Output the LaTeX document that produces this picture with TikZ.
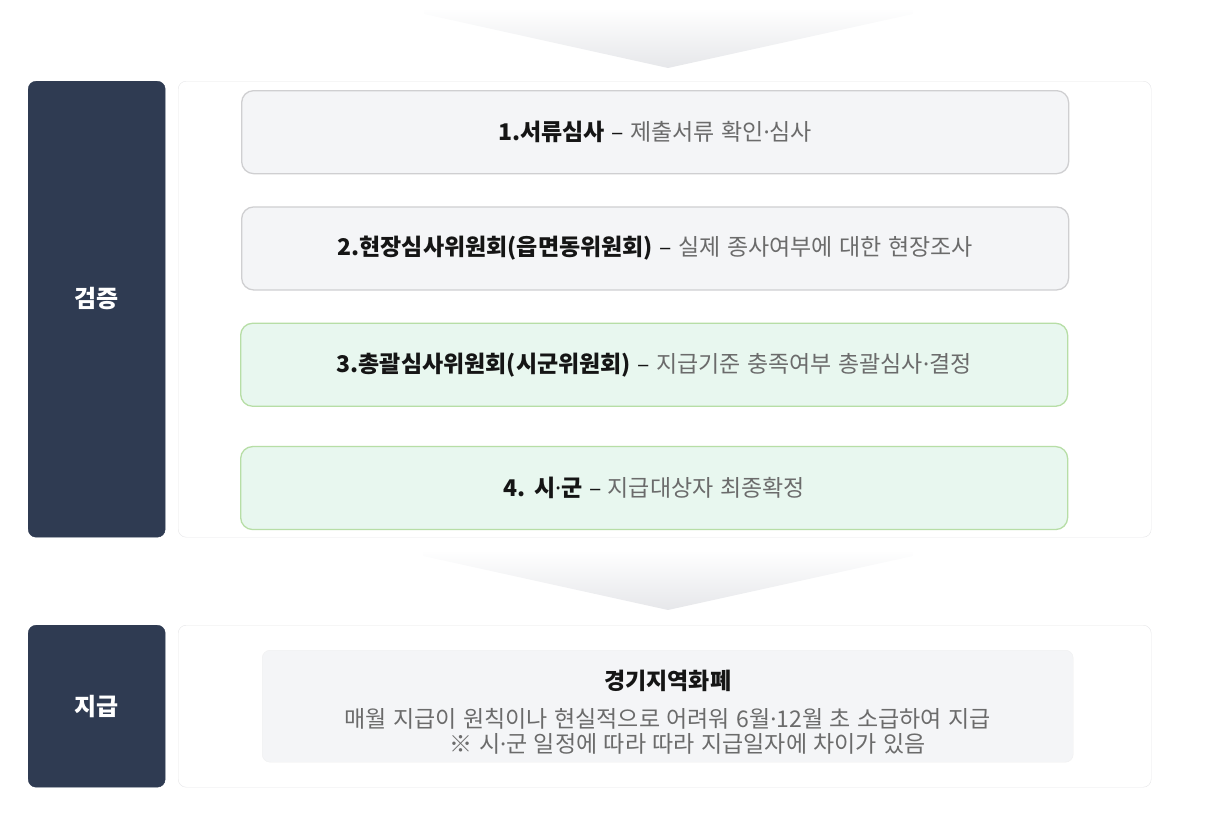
\documentclass[tikz,border=0pt]{standalone}
\usepackage{fontspec}
\setmainfont{Noto Sans CJK KR}[WordSpace=1.25]
\newfontfamily\dotfont{Noto Sans}
\newcommand{\mdot}{{\dotfont ·}}
\usetikzlibrary{positioning, calc, shadings}
\definecolor{navy}{HTML}{2F3B52}
\definecolor{txtgray}{HTML}{6B6B6B}
\definecolor{txtdark}{HTML}{151515}
\definecolor{boxgray}{HTML}{F4F5F7}
\definecolor{linegray}{HTML}{CFCFD1}
\definecolor{boxgreen}{HTML}{E8F7EF}
\definecolor{linegreen}{HTML}{B7DEA6}
\definecolor{panelline}{HTML}{E6E6E8}
\definecolor{fadegray}{HTML}{E6E7EA}
\tikzstyle{Side} = [
draw=navy, fill=navy, rounded corners=8pt,
minimum width=137pt, inner sep=0pt,
text=white, font=\fontsize{24}{28}\selectfont\bfseries]
\tikzstyle{Panel} = [
draw=panelline, fill=white, rounded corners=8pt,
minimum width=973pt, inner sep=0pt]
\tikzstyle{Step} = [
draw=linegray, fill=boxgray, line width=1.3pt, rounded corners=12pt,
minimum width=827pt, minimum height=83pt, inner sep=0pt,
text=txtdark, font=\fontsize{23}{27}\selectfont]
\tikzstyle{Done} = [Step, draw=linegreen, fill=boxgreen]
\tikzstyle{Chevron} = [top color=white, bottom color=fadegray, draw=none]

\begin{document}
\begin{tikzpicture}[x=1pt, y=1pt]
    \useasboundingbox (0,0) rectangle (1209,-816);

    % chevron on top
    \path[Chevron] (424,-8) -- (913,-8) -- (913,-14) -- (668,-68) -- (424,-14) -- cycle;

    \node [Side, minimum height=456pt, text depth=23pt, anchor=north west] (verify) at (28,-81) {검증};
    \node [Panel, minimum height=456pt, anchor=north west] (panelA) at (178,-81) {};

    \node [Step, anchor=north west] (1) at (241,-90)
        {{\bfseries 1.서류심사} – \textcolor{txtgray}{제출서류 확인\mdot 심사}};
    \node [Step, below =32pt of 1] (2)
        {{\bfseries 2.현장심사위원회(읍면동위원회)} – \textcolor{txtgray}{실제 종사여부에 대한 현장조사}};
    \node [Done, below =32pt of 2, xshift=-1pt] (3)
        {{\bfseries 3.총괄심사위원회(시군위원회)} – \textcolor{txtgray}{지급기준 충족여부 총괄심사\mdot 결정}};
    \node [Done, below =39pt of 3] (4)
        {{\bfseries 4. 시\mdot 군} – \textcolor{txtgray}{지급대상자 최종확정}};

    % chevron between the panels
    \path[Chevron] (423,-550) -- (913,-550) -- (913,-556) -- (668,-610) -- (423,-556) -- cycle;

    \node [Side, minimum height=162pt, anchor=north west] (pay) at (28,-625) {지급};
    \node [Panel, minimum height=162pt, anchor=north west] (panelB) at (178,-625) {};

    \node [draw=panelline!60, fill=boxgray, rounded corners=8pt,
        minimum width=811pt, minimum height=112pt, inner sep=0pt, align=center,
        font=\fontsize{23}{25}\selectfont, text=txtgray]
        (note) at ($(panelB.center)+(3,0)$)
        {\rule{0pt}{32pt}\textcolor{txtdark}{\bfseries 경기지역화폐}\\[13pt]
         매월 지급이 원칙이나 현실적으로 어려워 6월\mdot 12월 초 소급하여 지급\\
         \hspace*{40pt}※ 시\mdot 군 일정에 따라 따라 지급일자에 차이가 있음};
\end{tikzpicture}
\end{document}
